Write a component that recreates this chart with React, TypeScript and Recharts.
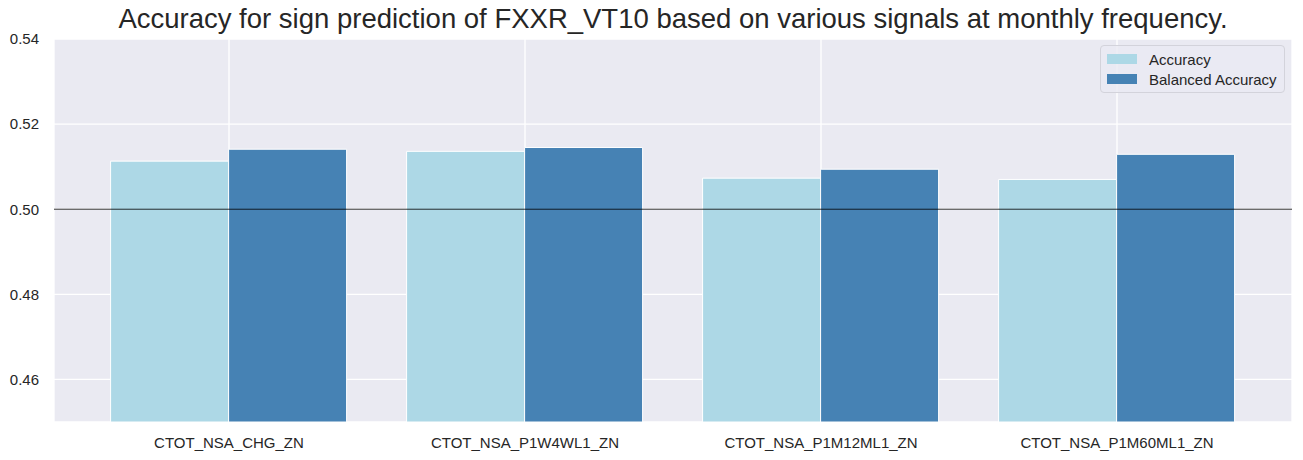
import React from "react";
import { BarChart, Bar, XAxis, YAxis, CartesianGrid, ReferenceLine } from "recharts";

// signal names on the x axis
const signals = [
  "CTOT_NSA_CHG_ZN",
  "CTOT_NSA_P1W4WL1_ZN",
  "CTOT_NSA_P1M12ML1_ZN",
  "CTOT_NSA_P1M60ML1_ZN",
];
const accuracy = [0.5113, 0.5136, 0.5073, 0.507];
const balancedAccuracy = [0.5141, 0.5145, 0.5094, 0.5129];
const yTicks = [0.46, 0.48, 0.5, 0.52, 0.54];

const data = signals.map((name, i) => ({
  name,
  accuracy: accuracy[i],
  balanced: balancedAccuracy[i],
}));

const font = "'Liberation Sans', Arial, sans-serif";
const textColor = "#262626";

const legendItems = [
  { label: "Accuracy", color: "#ADD8E6" },
  { label: "Balanced Accuracy", color: "#4682B4" },
];

const LegendBox = () => (
  <div
    style={{
      position: "absolute",
      top: 45,
      left: 1100,
      width: 185,
      height: 48,
      boxSizing: "border-box",
      background: "rgba(234,234,242,0.8)",
      border: "1px solid #d3d3db",
      borderRadius: 4,
      padding: "3px 6px",
      fontFamily: font,
      fontSize: 15,
      color: textColor,
    }}
  >
    {legendItems.map((it) => (
      <div key={it.label} style={{ display: "flex", alignItems: "center", height: 20 }}>
        <span style={{ width: 30, height: 10, background: it.color, marginRight: 12, display: "inline-block" }} />
        <span>{it.label}</span>
      </div>
    ))}
  </div>
);

export default function App() {
  return (
    <div style={{ position: "relative", width: 1303, height: 460, background: "#fff", fontFamily: font }}>
      <style>{"body{margin:0}"}</style>
      <div
        style={{
          position: "absolute",
          top: 4,
          left: 54,
          width: 1238,
          textAlign: "center",
          fontSize: 27.5,
          color: textColor,
          lineHeight: "30px",
          whiteSpace: "nowrap",
        }}
      >
        Accuracy for sign prediction of FXXR_VT10 based on various signals at monthly frequency.
      </div>
      <BarChart
        width={1303}
        height={460}
        data={data}
        margin={{ top: 39, right: 11, left: 0, bottom: 0 }}
        barCategoryGap="10%"
        barGap={0}
      >
        <CartesianGrid fill="#EAEAF2" stroke="#ffffff" strokeWidth={1.3} />
        <XAxis
          dataKey="name"
          height={38}
          padding={{ left: 27, right: 27 }}
          axisLine={false}
          tickLine={false}
          tickSize={0}
          tickMargin={15}
          tick={{ fill: textColor, fontSize: 15, fontFamily: font }}
        />
        <YAxis
          width={54}
          domain={[0.45, 0.54]}
          ticks={yTicks}
          allowDataOverflow
          axisLine={false}
          tickLine={false}
          tickSize={0}
          tickMargin={15}
          tickFormatter={(v: number) => v.toFixed(2)}
          tick={{ fill: textColor, fontSize: 15, fontFamily: font }}
        />
        <Bar dataKey="accuracy" name="Accuracy" fill="#ADD8E6" stroke="#ffffff" strokeWidth={1} isAnimationActive={false} />
        <Bar dataKey="balanced" name="Balanced Accuracy" fill="#4682B4" stroke="#ffffff" strokeWidth={1} isAnimationActive={false} />
        <ReferenceLine y={0.5} stroke="#000000" strokeWidth={0.8} />
      </BarChart>
      <LegendBox />
    </div>
  );
}
